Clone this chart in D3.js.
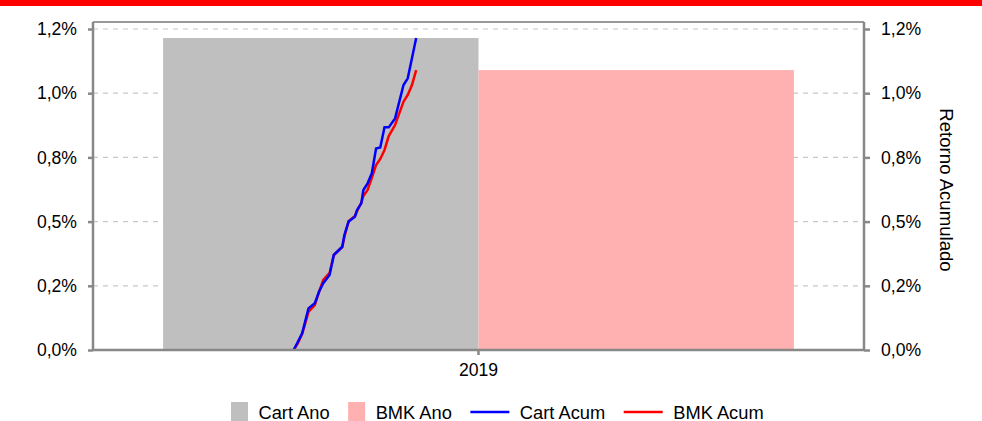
<!DOCTYPE html>
<html>
<head>
<meta charset="utf-8">
<script src="https://cdn.jsdelivr.net/npm/d3@7"></script>
<style>
  body { margin: 0; background: #fff; }
  svg text { font-family: "Liberation Sans", Arial, sans-serif; fill: #000; }
</style>
</head>
<body>
<div id="chart"></div>
<script>
// Bars (return for the year)
const years = ["2019"];
const seriesBars = ["Cart Ano", "BMK Ano"];
const cartAno = [1.215];
const bmkAno = [1.09];

// Cumulative return lines (day of year, %)
const days = [95, 97, 99, 100, 102, 105, 107, 109, 112, 114, 118, 119, 121, 124, 125,
  127, 128, 130, 132, 134, 136, 138, 140, 143, 147, 149, 151, 153];
const cartAcum = [0.0, 0.032, 0.065, 0.097, 0.162, 0.182, 0.227, 0.260, 0.292, 0.370,
  0.402, 0.448, 0.500, 0.519, 0.545, 0.571, 0.623, 0.649, 0.688, 0.785, 0.789, 0.867,
  0.867, 0.902, 1.032, 1.058, 1.136, 1.215];
const bmkAcum = [0.0, 0.027, 0.062, 0.090, 0.148, 0.175, 0.226, 0.273, 0.300, 0.370,
  0.401, 0.440, 0.502, 0.522, 0.541, 0.573, 0.600, 0.623, 0.670, 0.720, 0.744, 0.779,
  0.833, 0.876, 0.967, 0.993, 1.032, 1.09];

// Axis ticks
const yTicks = [0, 0.25, 0.5, 0.75, 1.0, 1.25];
const yTickLabels = ["0,0%", "0,2%", "0,5%", "0,8%", "1,0%", "1,2%"];

const W = 982, H = 421;
const margin = { top: 22, right: 118, bottom: 71, left: 93 };
const width = W - margin.left - margin.right;
const height = H - margin.top - margin.bottom;

const root = d3.select("#chart").append("svg")
  .attr("width", W)
  .attr("height", H);

// red band at the top
root.append("rect")
  .attr("x", 0).attr("y", 0)
  .attr("width", W).attr("height", 6)
  .attr("fill", "#ff0000");

const svg = root.append("g")
  .attr("transform", `translate(${margin.left},${margin.top})`);

const y = d3.scaleLinear().domain([0, 1.2773]).range([height, 0]);

const x = d3.scaleBand().domain(years).range([0, width]).padding(0.1);
const xSub = d3.scaleBand().domain(seriesBars).range([0, x.bandwidth()]);
const xDay = d3.scaleLinear().domain([0, 365]).range([0, width]);

const barColor = d3.scaleOrdinal().domain(seriesBars).range(["#bfbfbf", "#ffb0b0"]);

// gridlines
svg.append("g")
  .selectAll("line")
  .data(yTicks)
  .enter()
  .append("line")
  .attr("x1", 0).attr("x2", width)
  .attr("y1", d => y(d)).attr("y2", d => y(d))
  .attr("stroke", "#c8c8c8")
  .attr("stroke-width", 1.2)
  .attr("stroke-dasharray", "5,5");

// bars
const barData = years.map((yr, i) => [
  { key: "Cart Ano", year: yr, value: cartAno[i] },
  { key: "BMK Ano", year: yr, value: bmkAno[i] }
]).flat();

svg.selectAll(".bar")
  .data(barData)
  .enter()
  .append("rect")
  .attr("class", "bar")
  .attr("x", d => x(d.year) + xSub(d.key))
  .attr("y", d => y(d.value))
  .attr("width", xSub.bandwidth())
  .attr("height", d => height - y(d.value))
  .attr("fill", d => barColor(d.key));

// lines
const line = d3.line()
  .x(d => xDay(d[0]))
  .y(d => y(d[1]));

svg.append("path")
  .datum(days.map((d, i) => [d, bmkAcum[i]]))
  .attr("fill", "none")
  .attr("stroke", "#ff0000")
  .attr("stroke-width", 2.5)
  .attr("d", line);

svg.append("path")
  .datum(days.map((d, i) => [d, cartAcum[i]]))
  .attr("fill", "none")
  .attr("stroke", "#0000ff")
  .attr("stroke-width", 2.5)
  .attr("d", line);

// frame
svg.append("line")
  .attr("x1", 0).attr("x2", width)
  .attr("y1", 0).attr("y2", 0)
  .attr("stroke", "#999").attr("stroke-width", 2);

// left axis
const yLeft = svg.append("g")
  .call(d3.axisLeft(y).tickValues(yTicks).tickSize(5).tickPadding(11)
    .tickFormat((d, i) => yTickLabels[i]));

// right axis
const yRight = svg.append("g")
  .attr("transform", `translate(${width},0)`)
  .call(d3.axisRight(y).tickValues(yTicks).tickSize(6).tickPadding(11)
    .tickFormat((d, i) => yTickLabels[i]));

// bottom axis
const xAxis = svg.append("g")
  .attr("transform", `translate(0,${height})`)
  .call(d3.axisBottom(x).tickSize(5).tickPadding(9));

[yLeft, yRight, xAxis].forEach(g => {
  g.select(".domain").attr("stroke", "#888").attr("stroke-width", 2.5);
  g.selectAll(".tick line").attr("stroke", "#888").attr("stroke-width", 2.5);
  g.selectAll("text").attr("font-size", "17.6px").attr("font-family", "Liberation Sans, Arial, sans-serif");
});
yLeft.select(".domain").attr("d", `M0,${height + 1}V0`);
yRight.select(".domain").attr("d", `M0,${height + 1}V0`);
xAxis.select(".domain").attr("d", `M0,0H${width}`);

// right axis title
svg.append("text")
  .attr("transform", `translate(${width + 76},${168}) rotate(90)`)
  .attr("text-anchor", "middle")
  .attr("font-size", "18.6px")
  .text("Retorno Acumulado");

// legend
const legendItems = [
  { label: "Cart Ano", type: "rect", color: "#bfbfbf" },
  { label: "BMK Ano", type: "rect", color: "#ffb0b0" },
  { label: "Cart Acum", type: "line", color: "#0000ff" },
  { label: "BMK Acum", type: "line", color: "#ff0000" }
];

const legend = root.append("g").attr("transform", "translate(231,412)");
let lx = 0;
legendItems.forEach(item => {
  const g = legend.append("g").attr("transform", `translate(${lx},0)`);
  let sw;
  if (item.type === "rect") {
    g.append("rect")
      .attr("x", 0).attr("y", -10)
      .attr("width", 17).attr("height", 19)
      .attr("fill", item.color);
    sw = 17;
  } else {
    g.append("line")
      .attr("x1", 0).attr("x2", 39)
      .attr("y1", 0).attr("y2", 0)
      .attr("stroke", item.color)
      .attr("stroke-width", 2.5);
    sw = 39;
  }
  const t = g.append("text")
    .attr("x", sw + 10.5)
    .attr("y", 6.5)
    .attr("font-size", "18.3px")
    .text(item.label);
  lx += sw + 10.5 + t.node().getComputedTextLength() + 18.5;
});
</script>
</body>
</html>
